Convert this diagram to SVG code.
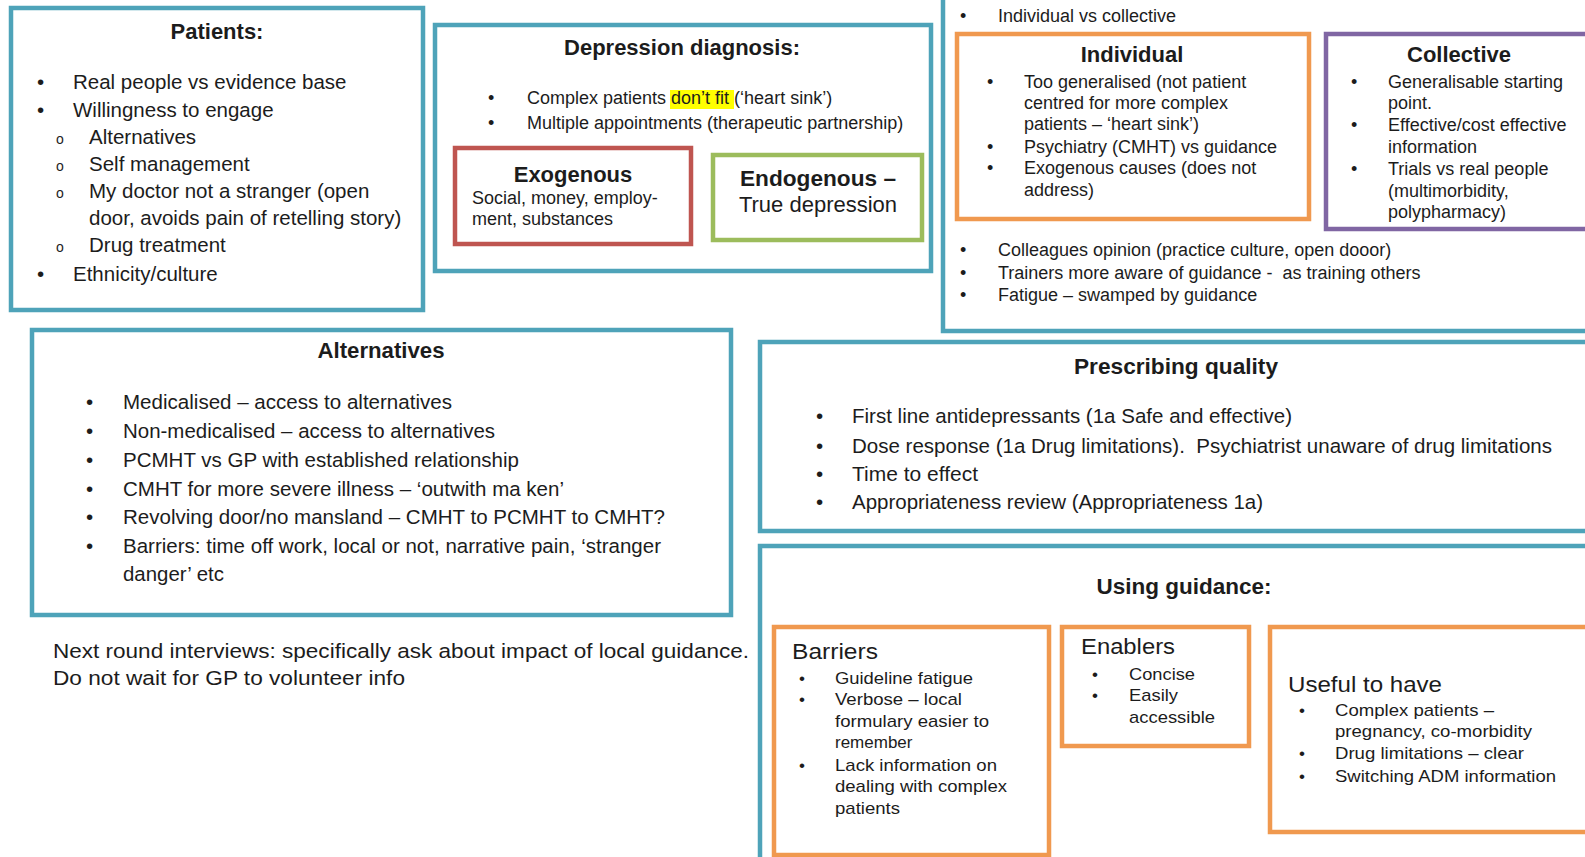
<svg xmlns="http://www.w3.org/2000/svg" width="1585" height="857" viewBox="0 0 1585 857">
  <style>
    text { font-family: "Liberation Sans", Arial, sans-serif; fill: #1c1c1c; white-space: pre; }
    .frame { fill: #ffffff; stroke: #4ea3b9; stroke-width: 4.5; }
    .orange { fill: #ffffff; stroke: #f0994f; stroke-width: 4.5; }
    .purple { fill: #ffffff; stroke: #8066a3; stroke-width: 4.5; }
    .red { fill: #ffffff; stroke: #bf5550; stroke-width: 4.5; }
    .green { fill: #ffffff; stroke: #9cbc5c; stroke-width: 4.5; }
    .title { font-size: 22px; font-weight: bold; text-anchor: middle; }
    .head { font-size: 22px; }
    .s20 { font-size: 20.5px; }
    .s18 { font-size: 18px; }
    .s17 { font-size: 17px; }
    .sub { font-size: 14px; }
    .mark { fill: #ffff00; }
  </style>

  <rect width="1585" height="857" fill="#ffffff"/>

  <!-- Patients -->
  <g id="patients">
    <rect class="frame" x="11" y="8" width="412" height="302"/>
    <text class="title" x="217" y="39">Patients:</text>
    <g class="s20">
      <text x="37" y="89">•</text><text x="73" y="89">Real people vs evidence base</text>
      <text x="37" y="117">•</text><text x="73" y="117">Willingness to engage</text>
      <text class="sub" x="56" y="144">o</text><text x="89" y="144">Alternatives</text>
      <text class="sub" x="56" y="171">o</text><text x="89" y="171">Self management</text>
      <text class="sub" x="56" y="198">o</text><text x="89" y="198">My doctor not a stranger (open</text>
      <text x="89" y="225">door, avoids pain of retelling story)</text>
      <text class="sub" x="56" y="252">o</text><text x="89" y="252">Drug treatment</text>
      <text x="37" y="281">•</text><text x="73" y="281">Ethnicity/culture</text>
    </g>
  </g>

  <!-- Depression diagnosis -->
  <g id="depression-diagnosis">
    <rect class="frame" x="435" y="25" width="496" height="246"/>
    <text class="title" x="682" y="55">Depression diagnosis:</text>
    <rect class="mark" x="670" y="90" width="64" height="19"/>
    <g class="s18">
      <text x="488" y="104">•</text><text x="527" y="104">Complex patients don’t fit (‘heart sink’)</text>
      <text x="488" y="129">•</text><text x="527" y="129">Multiple appointments (therapeutic partnership)</text>
    </g>
  </g>

  <g id="exogenous">
    <rect class="red" x="455" y="148" width="236" height="96"/>
    <text class="title" x="573" y="182">Exogenous</text>
    <text class="s18" x="472" y="204">Social, money, employ-</text>
    <text class="s18" x="472" y="225">ment, substances</text>
  </g>

  <g id="endogenous">
    <rect class="green" x="713" y="155" width="209" height="85"/>
    <text class="title" x="818" y="186" textLength="156" lengthAdjust="spacingAndGlyphs">Endogenous –</text>
    <text class="head" x="818" y="212" text-anchor="middle">True depression</text>
  </g>

  <!-- Guidance: individual vs collective -->
  <g id="individual-vs-collective">
    <rect class="frame" x="943" y="-30" width="680" height="361"/>
    <text class="s18" x="960" y="22">•</text><text class="s18" x="998" y="22">Individual vs collective</text>
    <g class="s18">
      <text x="960" y="256">•</text><text x="998" y="256">Colleagues opinion (practice culture, open dooor)</text>
      <text x="960" y="279">•</text><text x="998" y="279">Trainers more aware of guidance -  as training others</text>
      <text x="960" y="301">•</text><text x="998" y="301">Fatigue – swamped by guidance</text>
    </g>
  </g>

  <g id="individual">
    <rect class="orange" x="957" y="34" width="352" height="185"/>
    <text class="title" x="1132" y="62">Individual</text>
    <g class="s18">
      <text x="987" y="88">•</text><text x="1024" y="88">Too generalised (not patient</text>
      <text x="1024" y="109">centred for more complex</text>
      <text x="1024" y="130">patients – ‘heart sink’)</text>
      <text x="987" y="153">•</text><text x="1024" y="153">Psychiatry (CMHT) vs guidance</text>
      <text x="987" y="174">•</text><text x="1024" y="174">Exogenous causes (does not</text>
      <text x="1024" y="196">address)</text>
    </g>
  </g>

  <g id="collective">
    <rect class="purple" x="1326" y="34" width="290" height="195"/>
    <text class="title" x="1459" y="62">Collective</text>
    <g class="s18">
      <text x="1351" y="88">•</text><text x="1388" y="88">Generalisable starting</text>
      <text x="1388" y="109">point.</text>
      <text x="1351" y="131">•</text><text x="1388" y="131">Effective/cost effective</text>
      <text x="1388" y="153">information</text>
      <text x="1351" y="175">•</text><text x="1388" y="175">Trials vs real people</text>
      <text x="1388" y="197">(multimorbidity,</text>
      <text x="1388" y="218">polypharmacy)</text>
    </g>
  </g>

  <!-- Alternatives -->
  <g id="alternatives">
    <rect class="frame" x="32" y="330" width="699" height="285"/>
    <text class="title" x="381" y="358" textLength="127" lengthAdjust="spacingAndGlyphs">Alternatives</text>
    <g class="s20">
      <text x="86" y="409">•</text><text x="123" y="409" textLength="329" lengthAdjust="spacingAndGlyphs">Medicalised – access to alternatives</text>
      <text x="86" y="438">•</text><text x="123" y="438" textLength="372" lengthAdjust="spacingAndGlyphs">Non-medicalised – access to alternatives</text>
      <text x="86" y="467">•</text><text x="123" y="467" textLength="396" lengthAdjust="spacingAndGlyphs">PCMHT vs GP with established relationship</text>
      <text x="86" y="496">•</text><text x="123" y="496" textLength="441" lengthAdjust="spacingAndGlyphs">CMHT for more severe illness – ‘outwith ma ken’</text>
      <text x="86" y="524">•</text><text x="123" y="524" textLength="542" lengthAdjust="spacingAndGlyphs">Revolving door/no mansland – CMHT to PCMHT to CMHT?</text>
      <text x="86" y="553">•</text><text x="123" y="553" textLength="538" lengthAdjust="spacingAndGlyphs">Barriers: time off work, local or not, narrative pain, ‘stranger</text>
      <text x="123" y="581" textLength="101" lengthAdjust="spacingAndGlyphs">danger’ etc</text>
    </g>
  </g>

  <!-- Note below the boxes -->
  <g id="next-round-note" class="s20">
    <text x="53" y="658" textLength="696" lengthAdjust="spacingAndGlyphs">Next round interviews: specifically ask about impact of local guidance.</text>
    <text x="53" y="685" textLength="352" lengthAdjust="spacingAndGlyphs">Do not wait for GP to volunteer info</text>
  </g>

  <!-- Prescribing quality -->
  <g id="prescribing-quality">
    <rect class="frame" x="760" y="342" width="860" height="189"/>
    <text class="title" x="1176" y="374" textLength="204" lengthAdjust="spacingAndGlyphs">Prescribing quality</text>
    <g class="s20">
      <text x="816" y="423">•</text><text x="852" y="423" textLength="440" lengthAdjust="spacingAndGlyphs">First line antidepressants (1a Safe and effective)</text>
      <text x="816" y="453">•</text><text x="852" y="453" textLength="700" lengthAdjust="spacingAndGlyphs">Dose response (1a Drug limitations).  Psychiatrist unaware of drug limitations</text>
      <text x="816" y="481">•</text><text x="852" y="481" textLength="126" lengthAdjust="spacingAndGlyphs">Time to effect</text>
      <text x="816" y="509">•</text><text x="852" y="509" textLength="411" lengthAdjust="spacingAndGlyphs">Appropriateness review (Appropriateness 1a)</text>
    </g>
  </g>

  <!-- Using guidance -->
  <g id="using-guidance">
    <rect class="frame" x="760" y="546" width="860" height="340"/>
    <text class="title" x="1184" y="594" textLength="175" lengthAdjust="spacingAndGlyphs">Using guidance:</text>
  </g>

  <g id="barriers">
    <rect class="orange" x="774" y="627" width="275" height="228"/>
    <text class="head" x="792" y="659" textLength="86" lengthAdjust="spacingAndGlyphs">Barriers</text>
    <g class="s17">
      <text x="799" y="684">•</text><text x="835" y="684" textLength="138" lengthAdjust="spacingAndGlyphs">Guideline fatigue</text>
      <text x="799" y="705">•</text><text x="835" y="705" textLength="127" lengthAdjust="spacingAndGlyphs">Verbose – local</text>
      <text x="835" y="727" textLength="154" lengthAdjust="spacingAndGlyphs">formulary easier to</text>
      <text x="835" y="748">remember</text>
      <text x="799" y="771">•</text><text x="835" y="771" textLength="162" lengthAdjust="spacingAndGlyphs">Lack information on</text>
      <text x="835" y="792" textLength="172" lengthAdjust="spacingAndGlyphs">dealing with complex</text>
      <text x="835" y="814" textLength="65" lengthAdjust="spacingAndGlyphs">patients</text>
    </g>
  </g>

  <g id="enablers">
    <rect class="orange" x="1062" y="627" width="187" height="119"/>
    <text class="head" x="1081" y="654" textLength="94" lengthAdjust="spacingAndGlyphs">Enablers</text>
    <g class="s17">
      <text x="1092" y="680">•</text><text x="1129" y="680" textLength="66" lengthAdjust="spacingAndGlyphs">Concise</text>
      <text x="1092" y="701">•</text><text x="1129" y="701" textLength="49" lengthAdjust="spacingAndGlyphs">Easily</text>
      <text x="1129" y="723" textLength="86" lengthAdjust="spacingAndGlyphs">accessible</text>
    </g>
  </g>

  <g id="useful-to-have">
    <rect class="orange" x="1270" y="627" width="340" height="205"/>
    <text class="head" x="1288" y="692" textLength="154" lengthAdjust="spacingAndGlyphs">Useful to have</text>
    <g class="s17">
      <text x="1299" y="716">•</text><text x="1335" y="716" textLength="159" lengthAdjust="spacingAndGlyphs">Complex patients –</text>
      <text x="1335" y="737" textLength="197" lengthAdjust="spacingAndGlyphs">pregnancy, co-morbidity</text>
      <text x="1299" y="759">•</text><text x="1335" y="759" textLength="189" lengthAdjust="spacingAndGlyphs">Drug limitations – clear</text>
      <text x="1299" y="782">•</text><text x="1335" y="782" textLength="221" lengthAdjust="spacingAndGlyphs">Switching ADM information</text>
    </g>
  </g>
</svg>
